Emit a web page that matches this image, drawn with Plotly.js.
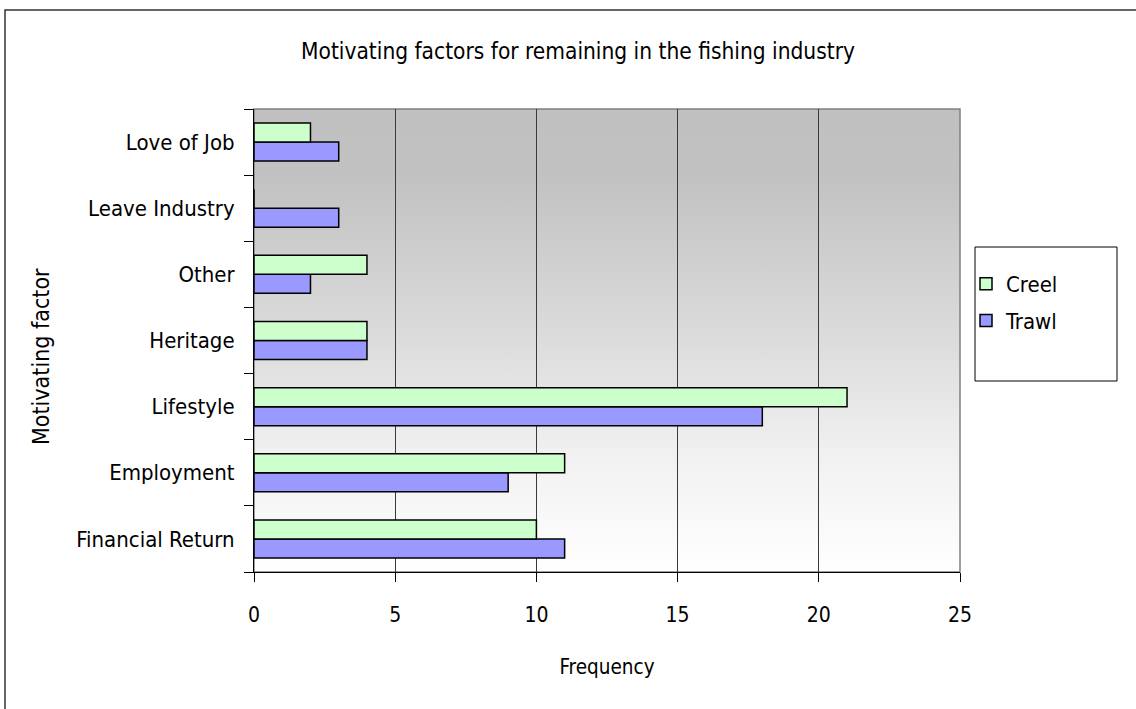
<!DOCTYPE html>
<html>
<head>
<meta charset="utf-8">
<script src="https://cdn.plot.ly/plotly-3.0.1.min.js"></script>
<style>
  html, body { margin: 0; padding: 0; background: #ffffff; }
  #chart { width: 1136px; height: 709px; }
</style>
</head>
<body>
<div id="chart"></div>
<script>
// Survey responses: motivating factors for staying in the fishing industry
const categories = ['Financial Return', 'Employment', 'Lifestyle', 'Heritage', 'Other', 'Leave Industry', 'Love of Job'];
const creel = [10, 11, 21, 4, 4, 0, 2];
const trawl = [11, 9, 18, 4, 2, 3, 3];
const xTicks = [0, 5, 10, 15, 20, 25];

const FONT = '"DejaVu Sans Condensed", "Liberation Sans", Arial, sans-serif';

// Grey-to-white vertical gradient for the plot area background
const gradientSvg =
  '<svg xmlns="http://www.w3.org/2000/svg" width="100" height="100" preserveAspectRatio="none">' +
  '<defs><linearGradient id="g" x1="0" y1="0" x2="0" y2="1">' +
  '<stop offset="0" stop-color="#c0c0c0"/>' +
  '<stop offset="0.15" stop-color="#c2c2c2"/>' +
  '<stop offset="0.5" stop-color="#dcdcdc"/>' +
  '<stop offset="0.75" stop-color="#f1f1f1"/>' +
  '<stop offset="1" stop-color="#ffffff"/>' +
  '</linearGradient></defs>' +
  '<rect x="0" y="0" width="100" height="100" fill="url(#g)"/></svg>';
const gradientUri = 'data:image/svg+xml;base64,' + btoa(gradientSvg);

const traces = [
  {
    type: 'bar', orientation: 'h', name: 'Trawl',
    y: categories, x: trawl,
    marker: { color: '#9999ff', line: { color: '#000000', width: 1.5 } },
    legendgroup: 'trawl', legendrank: 2, hoverinfo: 'x+y+name'
  },
  {
    type: 'bar', orientation: 'h', name: 'Creel',
    y: categories, x: creel,
    marker: { color: '#ccffcc', line: { color: '#000000', width: 1.5 } },
    legendgroup: 'creel', legendrank: 1, hoverinfo: 'x+y+name'
  }
];

const W = 1136, H = 709;
const M = { l: 254, r: 176, t: 109, b: 137 };
const PW = W - M.l - M.r, PH = H - M.t - M.b;
// pixel -> paper coordinate helpers for frame and legend box
const px = v => (v - M.l) / PW;
const py = v => (H - M.b - v) / PH;

const layout = {
  width: W, height: H, autosize: false,
  margin: M,
  paper_bgcolor: '#ffffff',
  plot_bgcolor: 'rgba(0,0,0,0)',
  font: { family: FONT, size: 22, color: '#000000' },
  title: {
    text: 'Motivating factors for remaining in the fishing industry',
    xref: 'container', yref: 'container',
    x: 578 / W, y: 1 - 51 / H, xanchor: 'center', yanchor: 'middle',
    font: { family: FONT, size: 22.5, color: '#000000' }
  },
  barmode: 'group',
  bargap: 0.425,
  bargroupgap: 0,
  xaxis: {
    range: [0, 25],
    tickvals: xTicks,
    ticktext: xTicks.map(String),
    ticks: 'outside', ticklen: 9, tickwidth: 1, tickcolor: '#000000',
    ticklabelstandoff: 15,
    tickfont: { family: FONT, size: 21, color: '#000000' },
    showline: true, linecolor: '#000000', linewidth: 1,
    showgrid: true, gridcolor: '#3a3a3a', gridwidth: 1,
    zeroline: false,
    title: { text: 'Frequency', standoff: 33, font: { family: FONT, size: 20.5, color: '#000000' } },
    fixedrange: true
  },
  yaxis: {
    type: 'category',
    categoryorder: 'array', categoryarray: categories,
    ticks: 'outside', ticklen: 9, tickwidth: 1, tickcolor: '#000000',
    tickson: 'boundaries',
    ticklabelstandoff: 14,
    tickfont: { family: FONT, size: 22, color: '#000000' },
    showline: true, linecolor: '#000000', linewidth: 1,
    showgrid: false, zeroline: false,
    fixedrange: true
  },
  legend: {
    x: px(966), y: py(263), xanchor: 'left', yanchor: 'top',
    bgcolor: 'rgba(0,0,0,0)', borderwidth: 0,
    traceorder: 'grouped', tracegroupgap: 5,
    font: { family: FONT, size: 22, color: '#000000' }
  },
  images: [{
    source: gradientUri,
    xref: 'paper', yref: 'paper', x: 0, y: 1, sizex: 1, sizey: 1,
    xanchor: 'left', yanchor: 'top', sizing: 'stretch', layer: 'below'
  }],
  shapes: [
    // plot area border
    { type: 'rect', xref: 'paper', yref: 'paper', x0: 0, x1: 1, y0: 0, y1: 1,
      line: { color: '#808080', width: 1.5 }, layer: 'below' },
    // legend box
    { type: 'rect', xref: 'paper', yref: 'paper', x0: px(975), x1: px(1117), y0: py(381), y1: py(247),
      line: { color: '#000000', width: 1 }, fillcolor: '#ffffff', layer: 'below' },
    // chart frame (right and bottom edges lie beyond the page)
    { type: 'rect', xref: 'paper', yref: 'paper', x0: px(5), x1: px(W + 30), y0: py(H + 30), y1: py(10),
      line: { color: '#333333', width: 1.5 }, layer: 'below' }
  ],
  annotations: [{
    text: 'Motivating factor', textangle: -90,
    xref: 'paper', yref: 'paper', x: px(41), y: py(357),
    xanchor: 'center', yanchor: 'middle', showarrow: false,
    font: { family: FONT, size: 23, color: '#000000' }
  }]
};

Plotly.newPlot('chart', traces, layout, { displayModeBar: false, staticPlot: true });
</script>
</body>
</html>
